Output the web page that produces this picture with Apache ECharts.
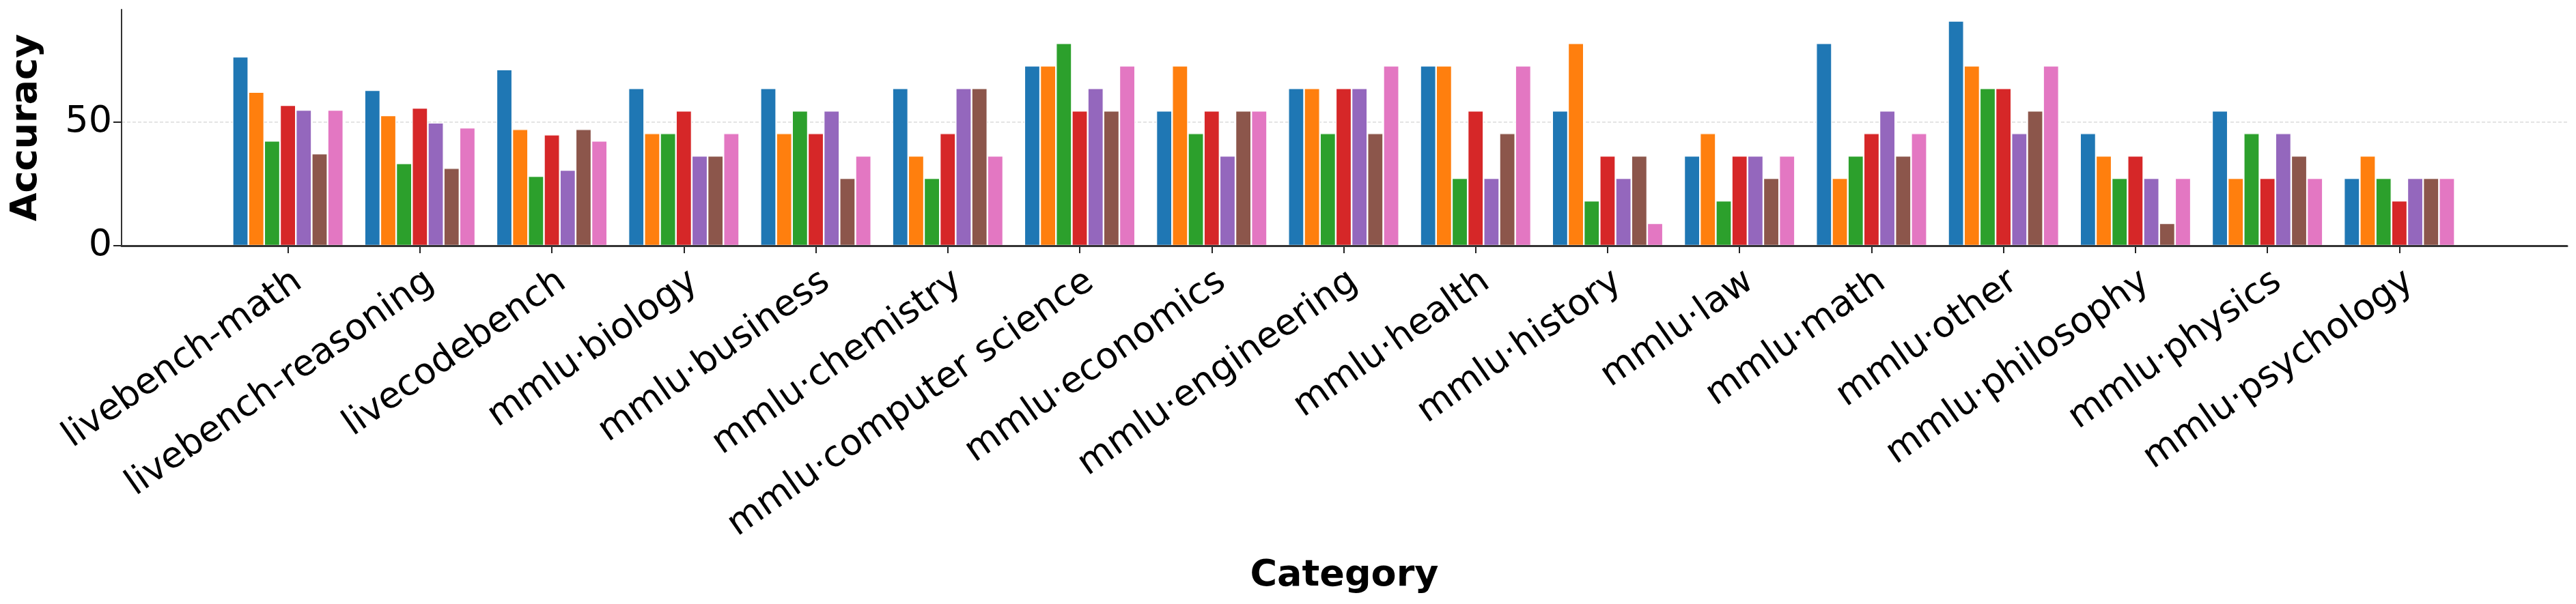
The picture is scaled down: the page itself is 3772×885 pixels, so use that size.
<!DOCTYPE html>
<html>
<head>
<meta charset="utf-8">
<script src="https://cdn.jsdelivr.net/npm/echarts@6/dist/echarts.min.js"></script>
<style>
  html, body { margin: 0; padding: 0; background: #fff; }
  #chart { width: 3772px; height: 885px; }
</style>
</head>
<body>
<div id="chart"></div>
<script>
// categories on the x axis
const categories = [
  "livebench-math", "livebench-reasoning", "livecodebench",
  "mmlu·biology", "mmlu·business", "mmlu·chemistry", "mmlu·computer science",
  "mmlu·economics", "mmlu·engineering", "mmlu·health", "mmlu·history",
  "mmlu·law", "mmlu·math", "mmlu·other", "mmlu·philosophy",
  "mmlu·physics", "mmlu·psychology"
];

// one array per bar colour (no legend in the source, so names are generic)
const series1 = [76.4, 62.9, 71.2, 63.64, 63.64, 63.64, 72.73, 54.55, 63.64, 72.73, 54.55, 36.36, 81.82, 90.91, 45.45, 54.55, 27.27];
const series2 = [62.1, 52.7, 47.1, 45.45, 45.45, 36.36, 72.73, 72.73, 63.64, 72.73, 81.82, 45.45, 27.27, 72.73, 36.36, 27.27, 36.36];
const series3 = [42.4, 33.3, 28.1, 45.45, 54.55, 27.27, 81.82, 45.45, 45.45, 27.27, 18.18, 18.18, 36.36, 63.64, 27.27, 45.45, 27.27];
const series4 = [56.8, 55.7, 44.9, 54.55, 45.45, 45.45, 54.55, 54.55, 63.64, 54.55, 36.36, 36.36, 45.45, 63.64, 36.36, 27.27, 18.18];
const series5 = [54.9, 49.7, 30.6, 36.36, 54.55, 63.64, 63.64, 36.36, 63.64, 27.27, 27.27, 36.36, 54.55, 45.45, 27.27, 45.45, 27.27];
const series6 = [37.2, 31.4, 47.1, 36.36, 27.27, 63.64, 54.55, 54.55, 45.45, 45.45, 36.36, 27.27, 36.36, 54.55, 9.09, 36.36, 27.27];
const series7 = [54.9, 47.7, 42.4, 45.45, 36.36, 36.36, 72.73, 54.55, 72.73, 72.73, 9.09, 36.36, 45.45, 72.73, 27.27, 27.27, 27.27];

const seriesNames = ["Series 1", "Series 2", "Series 3", "Series 4", "Series 5", "Series 6", "Series 7"];
const seriesData = [series1, series2, series3, series4, series5, series6, series7];
const colors = ["#1f77b4", "#ff7f0e", "#2ca02c", "#d62728", "#9467bd", "#8c564b", "#e377c2"];

// y ticks
const yTicks = { min: 0, max: 95.45, interval: 50 };

const font = "DejaVu Sans";
const myChart = echarts.init(document.getElementById("chart"), null, { renderer: "canvas" });

myChart.setOption({
  animation: false,
  backgroundColor: "#ffffff",
  textStyle: { fontFamily: font },
  grid: [
    // outer frame: full width spines, y axis and grid line
    { left: 178, right: 13, top: 14, bottom: 525 },
    // inner: the categories with 1.25 band padding on both sides
    { left: 325, right: 162, top: 14, bottom: 525 }
  ],
  xAxis: [
    {
      gridIndex: 0,
      type: "value",
      min: 0,
      max: 1,
      z: 5,
      axisLine: { show: true, lineStyle: { color: "#333333", width: 3 } },
      axisTick: { show: false },
      axisLabel: { show: false },
      splitLine: { show: false },
      name: "Category",
      nameLocation: "middle",
      nameGap: 457,
      nameTextStyle: { fontFamily: font, fontSize: 54, fontWeight: "bold", color: "#000" }
    },
    {
      gridIndex: 1,
      type: "category",
      data: categories,
      axisLine: { show: false },
      axisTick: { show: true, alignWithLabel: true, length: 11, lineStyle: { color: "#222", width: 2 } },
      axisLabel: {
        interval: 0,
        rotate: 35,
        align: "right",
        verticalAlign: "top",
        margin: 26,
        fontFamily: font,
        fontSize: 53,
        color: "#000"
      }
    }
  ],
  yAxis: [
    {
      gridIndex: 0,
      type: "value",
      min: yTicks.min,
      max: yTicks.max,
      interval: yTicks.interval,
      axisLine: { show: true, lineStyle: { color: "#333333", width: 2 } },
      axisTick: { show: true, length: 12, lineStyle: { color: "#222", width: 2 } },
      axisLabel: { margin: 14, fontFamily: font, fontSize: 54, color: "#000", showMaxLabel: false },
      splitLine: {
        show: true,
        showMinLine: false,
        showMaxLine: false,
        lineStyle: { color: "#dcdcdc", width: 1.5, type: [5, 3] }
      },
      name: "Accuracy",
      nameLocation: "middle",
      nameRotate: 90,
      nameGap: 112,
      nameTextStyle: { fontFamily: font, fontSize: 54, fontWeight: "bold", color: "#000" }
    },
    {
      gridIndex: 1,
      type: "value",
      min: yTicks.min,
      max: yTicks.max,
      show: false
    }
  ],
  series: seriesData.map(function (d, i) {
    return {
      name: seriesNames[i],
      type: "bar",
      xAxisIndex: 1,
      yAxisIndex: 1,
      data: d,
      barGap: "0%",
      barCategoryGap: "16%",
      itemStyle: { color: colors[i], borderColor: "#ffffff", borderWidth: 1.2 }
    };
  })
});
</script>
</body>
</html>
